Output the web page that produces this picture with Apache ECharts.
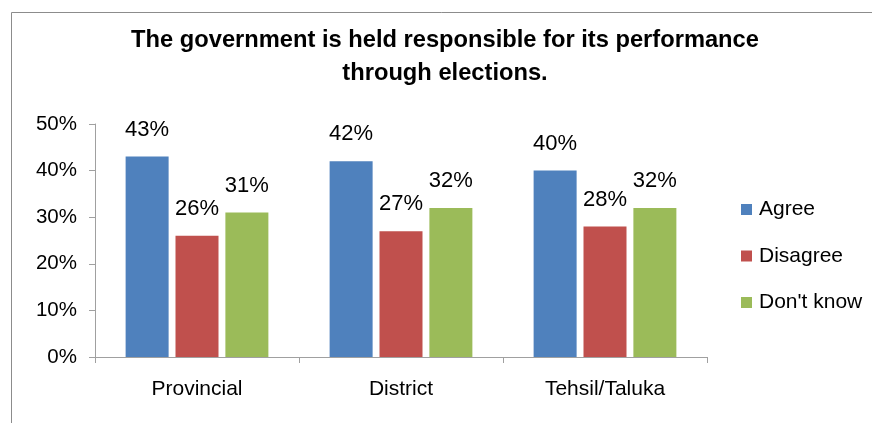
<!DOCTYPE html>
<html>
<head>
<meta charset="utf-8">
<script src="https://cdn.jsdelivr.net/npm/echarts@6/dist/echarts.min.js"></script>
<style>
  html, body { margin: 0; padding: 0; background: #fff; }
  #chart { width: 872px; height: 423px; }
</style>
</head>
<body>
<div id="chart"></div>
<script>
// Survey responses by tier of government (percent)
const categories = ['Provincial', 'District', 'Tehsil/Taluka'];
const agree = [43, 42, 40];
const disagree = [26, 27, 28];
const dontKnow = [31, 32, 32];
const seriesNames = ['Agree', 'Disagree', "Don't know"];
const yTicks = [0, 10, 20, 30, 40, 50];

const font = 'Liberation Sans, Arial, sans-serif';
const colors = ['#4f81bd', '#c0504d', '#9bbb59'];

const chart = echarts.init(document.getElementById('chart'), null, { renderer: 'canvas' });

function barSeries(name, data, color) {
  return {
    name: name,
    type: 'bar',
    data: data,
    barWidth: 43,
    barGap: '16%',
    itemStyle: { color: color },
    label: {
      show: true,
      position: 'top',
      distance: 16,
      formatter: '{c}%',
      color: '#000',
      fontFamily: font,
      fontSize: 22
    }
  };
}

chart.setOption({
  animation: false,
  backgroundColor: '#fff',
  color: colors,
  title: {
    text: 'The government is held responsible for its performance\nthrough elections.',
    left: 440,
    top: 19,
    textAlign: 'center',
    textStyle: {
      fontFamily: font,
      fontWeight: 'bold',
      fontSize: 23.7,
      lineHeight: 33,
      color: '#000'
    }
  },
  legend: {
    orient: 'vertical',
    left: 736,
    top: 194,
    itemWidth: 11,
    itemHeight: 11,
    itemGap: 25.5,
    icon: 'rect',
    textStyle: { fontFamily: font, fontSize: 21, color: '#000', padding: [0, 0, 0, 2] },
    data: seriesNames
  },
  grid: { left: 95, right: 165, top: 124, bottom: 66 },
  xAxis: {
    type: 'category',
    data: categories,
    axisLine: { lineStyle: { color: '#a0a0a0', width: 1 } },
    axisTick: { show: true, length: 6, lineStyle: { color: '#a0a0a0' } },
    axisLabel: { fontFamily: font, fontSize: 21, color: '#000', margin: 22 }
  },
  yAxis: {
    type: 'value',
    min: yTicks[0],
    max: yTicks[yTicks.length - 1],
    interval: 10,
    axisLine: { show: true, lineStyle: { color: '#a0a0a0', width: 1 } },
    axisTick: { show: true, length: 6, lineStyle: { color: '#a0a0a0' } },
    splitLine: { show: false },
    axisLabel: { fontFamily: font, fontSize: 20.5, color: '#000', margin: 18, formatter: '{value}%' }
  },
  graphic: [
    {
      type: 'polyline',
      shape: { points: [[11.5, 423], [11.5, 12.5], [872, 12.5]] },
      style: { stroke: '#8c8c8c', lineWidth: 1, fill: null },
      silent: true
    }
  ],
  series: [
    barSeries(seriesNames[0], agree, colors[0]),
    barSeries(seriesNames[1], disagree, colors[1]),
    barSeries(seriesNames[2], dontKnow, colors[2])
  ]
});
</script>
</body>
</html>
